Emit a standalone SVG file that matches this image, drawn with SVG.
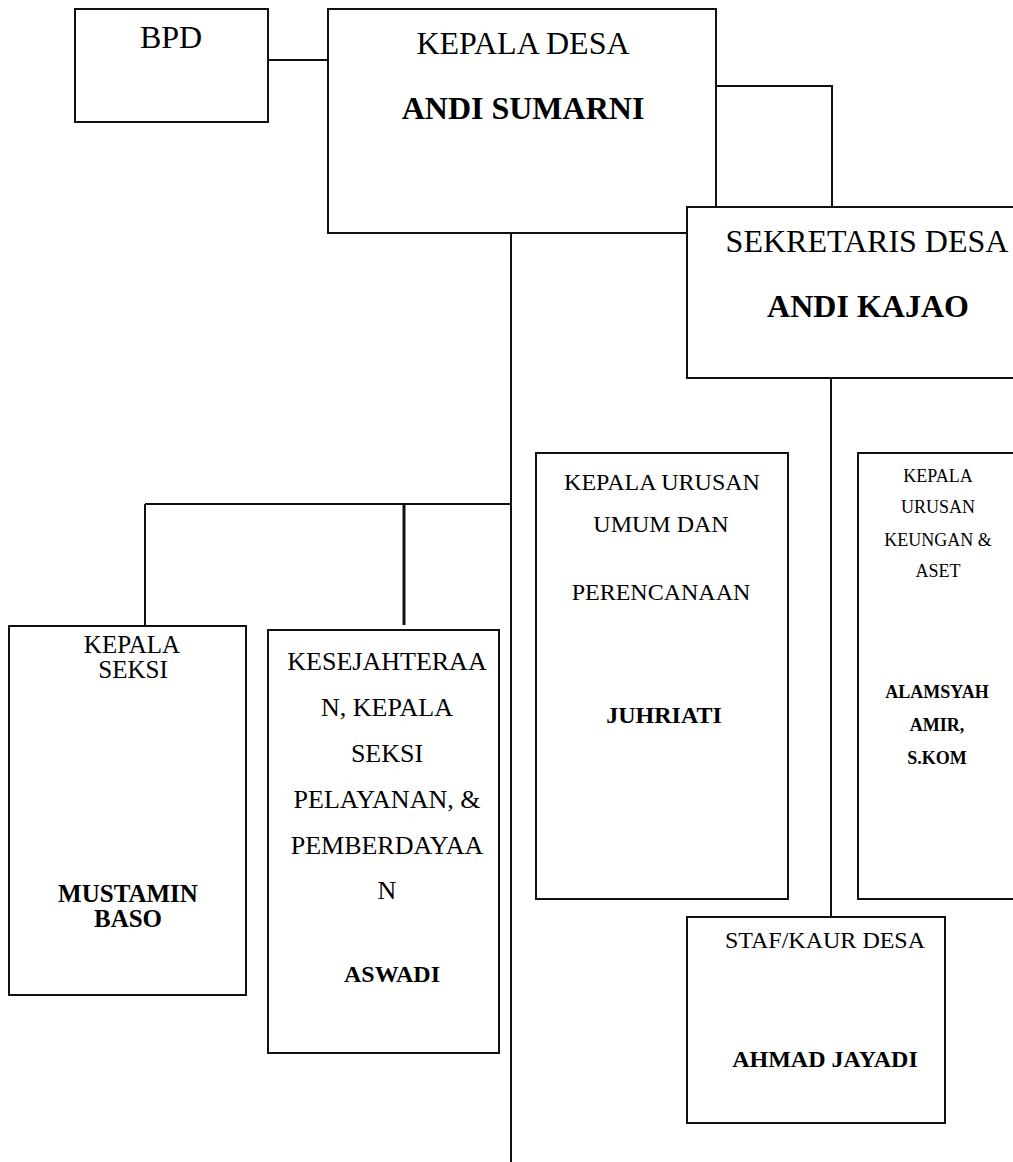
<svg xmlns="http://www.w3.org/2000/svg" width="1013" height="1162" viewBox="0 0 1013 1162">
<style>
.box{fill:#fff;stroke:#111;stroke-width:2}
.ln{fill:none;stroke:#111;stroke-width:2}
text{font-family:"Liberation Serif","Times New Roman",serif;fill:#000;text-anchor:middle}
.b{font-weight:bold}
.s32{font-size:32px}
.s26{font-size:26px}
.s25{font-size:25px}
.s24{font-size:24px}
.s18{font-size:18px}
</style>
<rect width="1013" height="1162" fill="#fff"/>
<g id="connectors">
<path class="ln" d="M268,60 H328"/>
<path class="ln" d="M716,86 H832 V207"/>
<path class="ln" d="M831,378 V917"/>
<path class="ln" d="M511,233 V1162"/>
<path class="ln" d="M145,504 H511"/>
<path class="ln" d="M145,504 V626"/>
<path class="ln" d="M404,504 V625" style="stroke-width:3"/>
</g>
<g id="bpd">
<rect class="box" x="75" y="9" width="193" height="113"/>
<text class="s32" x="171" y="48">BPD</text>
</g>
<g id="kepala-desa">
<rect class="box" x="328" y="9" width="388" height="224"/>
<text class="s32" x="523" y="54">KEPALA DESA</text>
<text class="s32 b" x="523" y="119">ANDI SUMARNI</text>
</g>
<g id="sekretaris-desa">
<rect class="box" x="687" y="207" width="340" height="171"/>
<text class="s32" x="867" y="252">SEKRETARIS DESA</text>
<text class="s32 b" x="868" y="317">ANDI KAJAO</text>
</g>
<g id="kepala-seksi">
<rect class="box" x="9" y="626" width="237" height="369"/>
<text class="s25" x="132" y="653">KEPALA</text>
<text class="s25" x="133" y="678">SEKSI</text>
<text class="s25 b" x="128" y="902">MUSTAMIN</text>
<text class="s25 b" x="128" y="927">BASO</text>
</g>
<g id="kesejahteraan">
<rect class="box" x="268" y="630" width="231" height="423"/>
<text class="s26" x="387" y="670">KESEJAHTERAA</text>
<text class="s26" x="387" y="716">N, KEPALA</text>
<text class="s26" x="387" y="762">SEKSI</text>
<text class="s26" x="387" y="808">PELAYANAN, &amp;</text>
<text class="s26" x="387" y="854">PEMBERDAYAA</text>
<text class="s26" x="387" y="899">N</text>
<text class="s24 b" x="392" y="982">ASWADI</text>
</g>
<g id="kaur-umum">
<rect class="box" x="536" y="453" width="252" height="446"/>
<text class="s24" x="662" y="490">KEPALA URUSAN</text>
<text class="s24" x="661" y="532">UMUM DAN</text>
<text class="s24" x="661" y="600">PERENCANAAN</text>
<text class="s24 b" x="664" y="723">JUHRIATI</text>
</g>
<g id="kaur-keuangan">
<rect class="box" x="858" y="453" width="170" height="446"/>
<text class="s18" x="938" y="482">KEPALA</text>
<text class="s18" x="938" y="513">URUSAN</text>
<text class="s18" x="938" y="546">KEUNGAN &amp;</text>
<text class="s18" x="938" y="577">ASET</text>
<text class="s18 b" x="937" y="698">ALAMSYAH</text>
<text class="s18 b" x="937" y="731">AMIR,</text>
<text class="s18 b" x="937" y="764">S.KOM</text>
</g>
<g id="staf">
<rect class="box" x="687" y="917" width="258" height="206"/>
<text class="s24" x="825" y="948">STAF/KAUR DESA</text>
<text class="s24 b" x="825" y="1067">AHMAD JAYADI</text>
</g>
</svg>
